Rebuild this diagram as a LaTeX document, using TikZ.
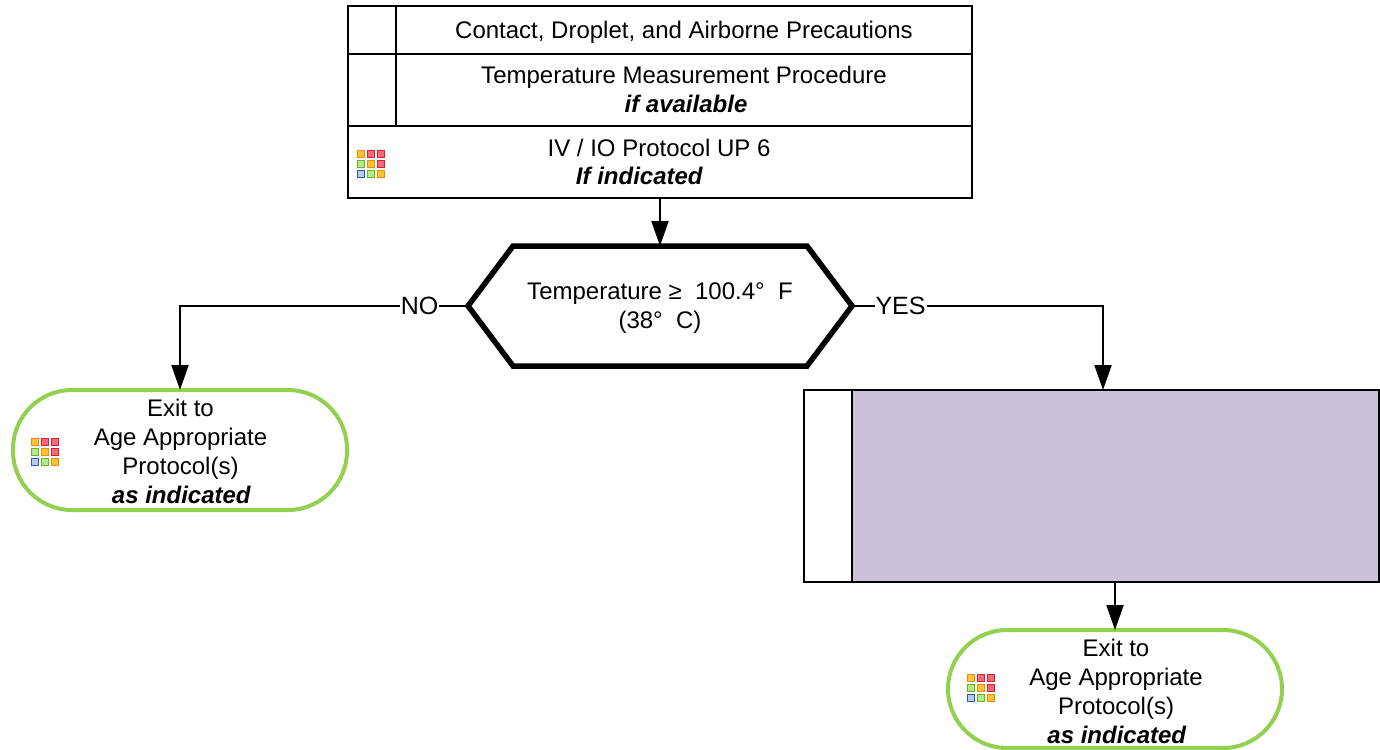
\documentclass[tikz,border=0pt]{standalone}
\usepackage{fontspec}
\setmainfont{Liberation Sans}
\usetikzlibrary{arrows.meta,calc}
\definecolor{exitgreen}{HTML}{92D050}
\definecolor{lilac}{HTML}{CCC1DA}
\definecolor{gO}{HTML}{FFC234}\definecolor{gOd}{HTML}{E8900C}
\definecolor{gR}{HTML}{F26A78}\definecolor{gRd}{HTML}{D02436}
\definecolor{gG}{HTML}{B4EA86}\definecolor{gGd}{HTML}{6CB02C}
\definecolor{gB}{HTML}{B4CCEA}\definecolor{gBd}{HTML}{2F5C9C}
\tikzset{
  x=1pt,y=-1pt,
  every node/.style={inner sep=0pt,outer sep=0pt},
  txt/.style={font=\fontsize{24}{29}\selectfont,align=center,text=black},
  cell/.style={draw=black,line width=2pt,fill=white,minimum width=#1,anchor=north west},
  flow/.style={draw=black,line width=2pt,-{Triangle[length=25pt,width=17pt]}},
  plain/.style={draw=black,line width=2pt},
  exitnode/.style={draw=exitgreen,line width=4pt,fill=white,rounded corners=59pt,minimum width=334pt,anchor=north west},
  lab/.style={font=\fontsize{25}{29}\selectfont,text=black,fill=white,inner xsep=1pt,inner ysep=0pt},
}
\newcommand{\gridsq}[4]{\fill[#4] (#1,#2) rectangle ++(8,8);\fill[#3] (#1+1,#2+1) rectangle ++(6,6);}
\newcommand{\gridicon}[2]{%
  \begin{scope}[shift={(#1,#2)}]
  \gridsq{0}{0}{gO}{gOd}\gridsq{10}{0}{gR}{gRd}\gridsq{20}{0}{gR}{gRd}
  \gridsq{0}{10}{gG}{gGd}\gridsq{10}{10}{gO}{gOd}\gridsq{20}{10}{gR}{gRd}
  \gridsq{0}{20}{gB}{gBd}\gridsq{10}{20}{gG}{gGd}\gridsq{20}{20}{gO}{gOd}
  \end{scope}}
\newcommand{\bi}[1]{\hspace*{2pt}\textbf{\textit{#1}}}
\begin{document}
\begin{tikzpicture}
\useasboundingbox (0,0) rectangle (1380,749);
\clip (0,0) rectangle (1380,749);
% stack of rows
\node[cell=624pt,minimum height=48pt] (r1) at (348,6) {};
\node[cell=624pt,minimum height=72pt] (r2) at (348,54) {};
\node[cell=624pt,minimum height=72pt] (r3) at (348,126) {};
\draw[plain] (396,6) -- (396,126);
\node[txt] (t1) at (684,32) {Contact, Droplet, and Airborne Precautions};
\node[txt] (t2) at (684,89.5) {Temperature Measurement Procedure\\\hspace*{2pt}\bi{if available}};
\node[txt] (t3a) at (659,148) {IV / IO Protocol UP 6};
\node[txt] (t3b) at (639.5,176) {\textbf{\textit{If indicated}}};
\gridicon{357}{150}
% decision
\node[minimum width=384pt,minimum height=120pt] (dec) at (660,306) {};
\draw[black,line width=5.5pt,miter limit=10] (dec.west) -- ($(dec.north west)+(45,0)$) -- ($(dec.north east)+(-45,0)$) -- (dec.east) -- ($(dec.south east)+(-45,0)$) -- ($(dec.south west)+(45,0)$) -- cycle;
\node[txt] (dect) at (660,308) {Temperature ≥\ \ 100.4°\ \ F\\(38°\ \ C)};
% exits and process
\node[exitnode,minimum height=120pt] (exitL) at (13,390) {};
\node[txt] (exitLt) at (180.5,451.5) {Exit to\\Age Appropriate\\Protocol(s)\\\bi{as indicated}};
\gridicon{31}{438}
\node[draw=black,line width=2pt,fill=lilac,minimum width=527pt,minimum height=192pt,anchor=north west] (proc) at (852,390) {};
\node[draw=black,line width=2pt,fill=white,minimum width=48pt,minimum height=192pt,anchor=north west] (procL) at (804,390) {};
\node[exitnode,minimum height=118pt] (exitR) at (948,630) {};
\node[txt] (exitRt) at (1116,691.5) {Exit to\\Age Appropriate\\Protocol(s)\\\bi{as indicated}};
\gridicon{967}{674}
% connectors
\draw[flow] (r3.south -| dec.north) -- (dec.north);
\draw[flow] (dec.west) -| (exitL.north);
\draw[flow] (dec.east) -| (proc.north -| 1103,390);
\draw[flow] (proc.south -| exitR.north) -- (exitR.north);
\node[lab] (no) at (419.5,306) {NO};
\node[lab] (yes) at (900.5,306) {YES};
\end{tikzpicture}
\end{document}
